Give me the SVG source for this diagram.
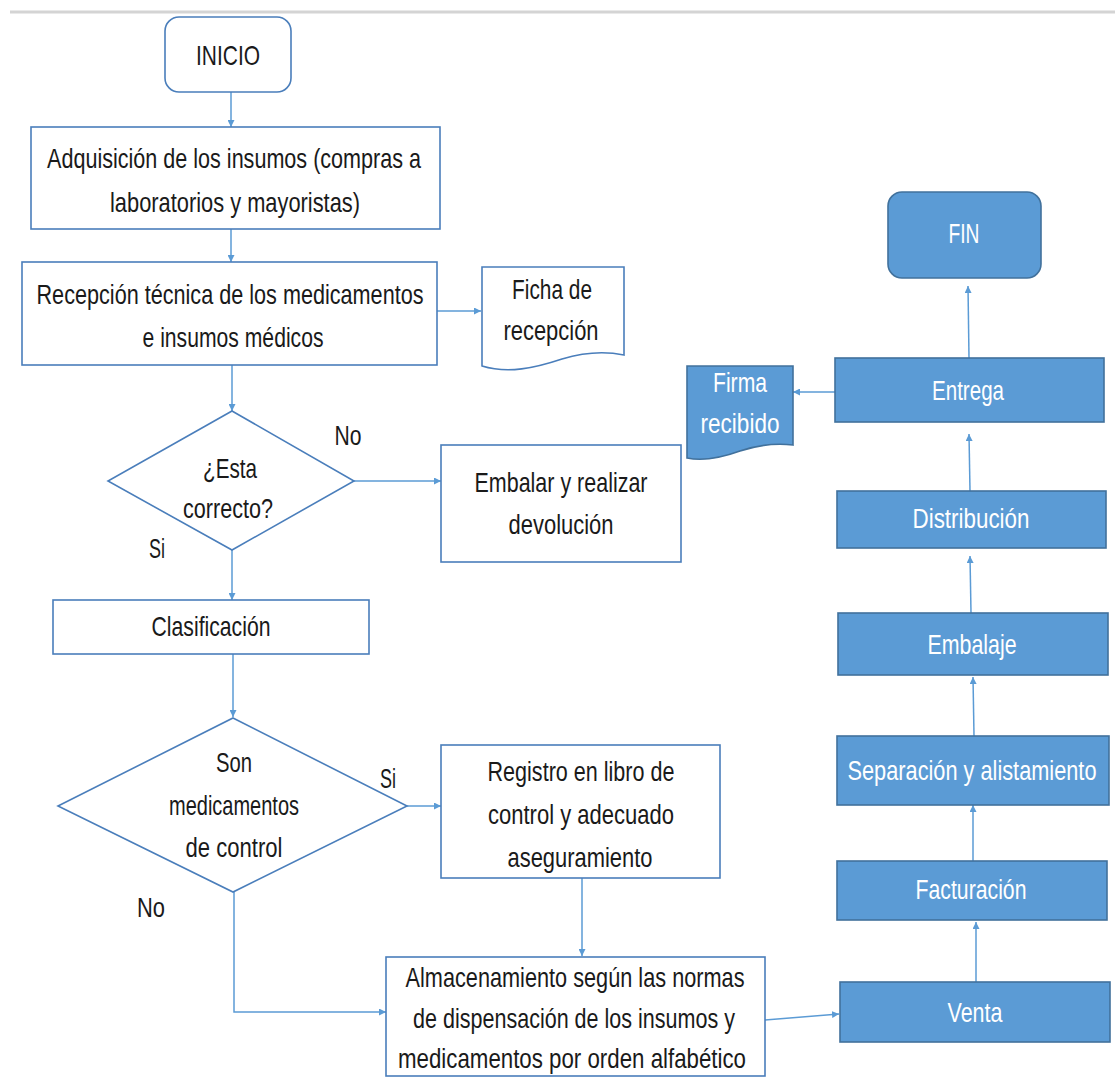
<svg xmlns="http://www.w3.org/2000/svg" width="1115" height="1085" viewBox="0 0 1115 1085">
<defs>
<style>
.w{fill:#fff;stroke:#4A7EBB;stroke-width:1.6}
.b{fill:#5B9BD5;stroke:#41719C;stroke-width:1.6}
.c{fill:none;stroke:#5B9BD5;stroke-width:1.5}
text{font-family:"Liberation Sans",Arial,sans-serif;font-size:21px;text-anchor:middle}
.t{fill:#1a1a1a}
.wt{fill:#fff}
</style>
<marker id="a" viewBox="0 0 10 10" refX="10" refY="5" markerWidth="7" markerHeight="7" orient="auto" markerUnits="userSpaceOnUse">
<path d="M0,0 L10,5 L0,10 z" fill="#5B9BD5"/>
</marker>
</defs>
<rect width="1115" height="1085" fill="#fff"/>
<line x1="10" y1="12" x2="1115" y2="12" stroke="#d4d4d4" stroke-width="3"/>

<g id="connectors">
<line class="c" x1="231" y1="92" x2="231" y2="127" marker-end="url(#a)"/>
<line class="c" x1="231" y1="229" x2="231" y2="262" marker-end="url(#a)"/>
<line class="c" x1="437" y1="311" x2="481" y2="311" marker-end="url(#a)"/>
<line class="c" x1="232" y1="365" x2="232" y2="411" marker-end="url(#a)"/>
<line class="c" x1="354" y1="481" x2="441" y2="481" marker-end="url(#a)"/>
<line class="c" x1="232" y1="550" x2="232" y2="600" marker-end="url(#a)"/>
<line class="c" x1="233" y1="654" x2="233" y2="717" marker-end="url(#a)"/>
<line class="c" x1="407" y1="806" x2="441" y2="806" marker-end="url(#a)"/>
<line class="c" x1="582" y1="878" x2="582" y2="956" marker-end="url(#a)"/>
<polyline class="c" points="234,892 234,1012 386,1012" marker-end="url(#a)"/>
<line class="c" x1="765" y1="1020" x2="839" y2="1014" marker-end="url(#a)"/>
<line class="c" x1="976" y1="982" x2="976" y2="922" marker-end="url(#a)"/>
<line class="c" x1="973" y1="861" x2="973" y2="805" marker-end="url(#a)"/>
<line class="c" x1="974" y1="736" x2="973" y2="677" marker-end="url(#a)"/>
<line class="c" x1="971" y1="613" x2="970" y2="556" marker-end="url(#a)"/>
<line class="c" x1="970" y1="491" x2="969" y2="434" marker-end="url(#a)"/>
<line class="c" x1="969" y1="358" x2="968" y2="286" marker-end="url(#a)"/>
<line class="c" x1="835" y1="392" x2="793" y2="392" marker-end="url(#a)"/>
<polygon points="641,826 650,820 649,832" fill="#5B9BD5"/>
</g>

<g id="inicio">
<rect class="w" x="165" y="17" width="126" height="75" rx="14"/>
<text class="t" transform="matrix(1,0,0,1.35,228,65)" textLength="64" lengthAdjust="spacingAndGlyphs">INICIO</text>
</g>
<g id="adquisicion">
<rect class="w" x="31" y="127" width="409" height="102"/>
<text class="t" transform="matrix(1,0,0,1.35,234,168)" textLength="374" lengthAdjust="spacingAndGlyphs">Adquisición de los insumos (compras a</text>
<text class="t" transform="matrix(1,0,0,1.35,235,212)" textLength="250" lengthAdjust="spacingAndGlyphs">laboratorios y mayoristas)</text>
</g>
<g id="recepcion">
<rect class="w" x="22" y="262" width="415" height="103"/>
<text class="t" transform="matrix(1,0,0,1.35,230,304)" textLength="387" lengthAdjust="spacingAndGlyphs">Recepción técnica de los medicamentos</text>
<text class="t" transform="matrix(1,0,0,1.35,233,347)" textLength="181" lengthAdjust="spacingAndGlyphs">e insumos médicos</text>
</g>
<g id="ficha">
<path class="w" d="M482,267 H624 V355 C605,351 585,352 562,359 C535,368 508,374 482,366 Z"/>
<text class="t" transform="matrix(1,0,0,1.35,552,299)" textLength="80" lengthAdjust="spacingAndGlyphs">Ficha de</text>
<text class="t" transform="matrix(1,0,0,1.35,551,340)" textLength="95" lengthAdjust="spacingAndGlyphs">recepción</text>
</g>
<g id="firma">
<path class="b" d="M687,366 H793 V445 C775,443 758,445 740,451 C718,459 702,461 687,458 Z"/>
<text class="wt" transform="matrix(1,0,0,1.35,740,392)" textLength="54" lengthAdjust="spacingAndGlyphs">Firma</text>
<text class="wt" transform="matrix(1,0,0,1.35,740,433)" textLength="79" lengthAdjust="spacingAndGlyphs">recibido</text>
</g>
<g id="decision1">
<polygon class="w" points="232,411 354,481 232,550 108,481"/>
<text class="t" transform="matrix(1,0,0,1.35,230,478)" textLength="54" lengthAdjust="spacingAndGlyphs">¿Esta</text>
<text class="t" transform="matrix(1,0,0,1.35,228,518)" textLength="90" lengthAdjust="spacingAndGlyphs">correcto?</text>
</g>
<text class="t" transform="matrix(1,0,0,1.35,348,445)" textLength="27" lengthAdjust="spacingAndGlyphs">No</text>
<text class="t" transform="matrix(1,0,0,1.35,157,558)" textLength="16" lengthAdjust="spacingAndGlyphs">Si</text>
<g id="embalar">
<rect class="w" x="441" y="445" width="240" height="117"/>
<text class="t" transform="matrix(1,0,0,1.35,561,492)" textLength="173" lengthAdjust="spacingAndGlyphs">Embalar y realizar</text>
<text class="t" transform="matrix(1,0,0,1.35,561,534)" textLength="105" lengthAdjust="spacingAndGlyphs">devolución</text>
</g>
<g id="clasificacion">
<rect class="w" x="53" y="600" width="316" height="54"/>
<text class="t" transform="matrix(1,0,0,1.35,211,636)" textLength="119" lengthAdjust="spacingAndGlyphs">Clasificación</text>
</g>
<g id="decision2">
<polygon class="w" points="233,718 407,806 233,892 58,806"/>
<text class="t" transform="matrix(1,0,0,1.35,234,772)" textLength="36" lengthAdjust="spacingAndGlyphs">Son</text>
<text class="t" transform="matrix(1,0,0,1.35,234,815)" textLength="130" lengthAdjust="spacingAndGlyphs">medicamentos</text>
<text class="t" transform="matrix(1,0,0,1.35,234,857)" textLength="97" lengthAdjust="spacingAndGlyphs">de control</text>
</g>
<text class="t" transform="matrix(1,0,0,1.35,388,788)" textLength="16" lengthAdjust="spacingAndGlyphs">Si</text>
<text class="t" transform="matrix(1,0,0,1.35,151,917)" textLength="28" lengthAdjust="spacingAndGlyphs">No</text>
<g id="registro">
<rect class="w" x="441" y="745" width="279" height="133"/>
<text class="t" transform="matrix(1,0,0,1.35,581,781)" textLength="187" lengthAdjust="spacingAndGlyphs">Registro en libro de</text>
<text class="t" transform="matrix(1,0,0,1.35,581,824)" textLength="186" lengthAdjust="spacingAndGlyphs">control y adecuado</text>
<text class="t" transform="matrix(1,0,0,1.35,580,867)" textLength="145" lengthAdjust="spacingAndGlyphs">aseguramiento</text>
</g>
<g id="almacenamiento">
<rect class="w" x="386" y="957" width="379" height="119"/>
<text class="t" transform="matrix(1,0,0,1.35,575,987)" textLength="339" lengthAdjust="spacingAndGlyphs">Almacenamiento según las normas</text>
<text class="t" transform="matrix(1,0,0,1.35,574,1028)" textLength="322" lengthAdjust="spacingAndGlyphs">de dispensación de los insumos y</text>
<text class="t" transform="matrix(1,0,0,1.35,572,1068)" textLength="348" lengthAdjust="spacingAndGlyphs">medicamentos por orden alfabético</text>
</g>
<g id="fin">
<rect class="b" x="888" y="192" width="153" height="86" rx="14"/>
<text class="wt" transform="matrix(1,0,0,1.35,964,243)" textLength="31" lengthAdjust="spacingAndGlyphs">FIN</text>
</g>
<g id="entrega">
<rect class="b" x="835" y="358" width="269" height="64"/>
<text class="wt" transform="matrix(1,0,0,1.35,968,400)" textLength="72" lengthAdjust="spacingAndGlyphs">Entrega</text>
</g>
<g id="distribucion">
<rect class="b" x="837" y="491" width="269" height="57"/>
<text class="wt" transform="matrix(1,0,0,1.35,971,528)" textLength="117" lengthAdjust="spacingAndGlyphs">Distribución</text>
</g>
<g id="embalaje">
<rect class="b" x="838" y="613" width="270" height="62"/>
<text class="wt" transform="matrix(1,0,0,1.35,972,654)" textLength="89" lengthAdjust="spacingAndGlyphs">Embalaje</text>
</g>
<g id="separacion">
<rect class="b" x="837" y="736" width="272" height="69"/>
<text class="wt" transform="matrix(1,0,0,1.35,972,780)" textLength="249" lengthAdjust="spacingAndGlyphs">Separación y alistamiento</text>
</g>
<g id="facturacion">
<rect class="b" x="837" y="861" width="270" height="59"/>
<text class="wt" transform="matrix(1,0,0,1.35,971,899)" textLength="111" lengthAdjust="spacingAndGlyphs">Facturación</text>
</g>
<g id="venta">
<rect class="b" x="840" y="982" width="270" height="60"/>
<text class="wt" transform="matrix(1,0,0,1.35,975,1022)" textLength="55" lengthAdjust="spacingAndGlyphs">Venta</text>
</g>
</svg>
